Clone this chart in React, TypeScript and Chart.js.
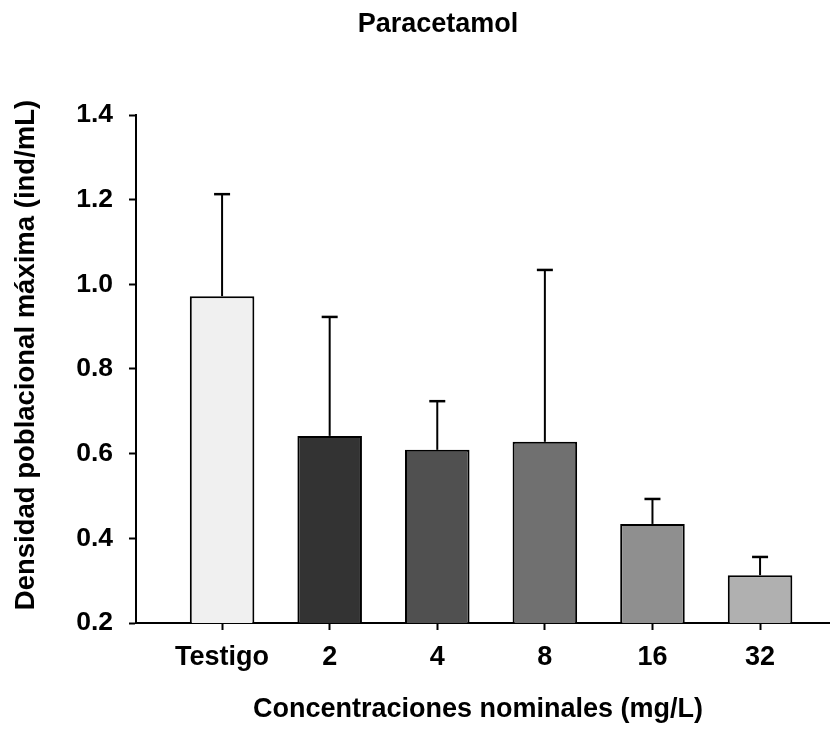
import React, { useEffect, useRef } from "react";
import { Chart, registerables } from "chart.js";

Chart.register(...registerables);

const chartTitle = "Paracetamol";
const xAxisTitle = "Concentraciones nominales (mg/L)";
const yAxisTitle = "Densidad poblacional máxima (ind/mL)";
const categories = ["Testigo", "2", "4", "8", "16", "32"];
const means = [0.972, 0.642, 0.609, 0.628, 0.434, 0.313];
const errorsUp = [0.241, 0.281, 0.115, 0.406, 0.059, 0.043];
const barColors = ["#f0f0f0", "#333333", "#505050", "#707070", "#8f8f8f", "#b0b0b0"];
const yTicks = [0.2, 0.4, 0.6, 0.8, 1.0, 1.2, 1.4];

const FONT = "'Liberation Sans', Arial, Helvetica, sans-serif";

const errorBarPlugin = {
  id: "errorBars",
  afterDatasetsDraw(chart: any) {
    const ctx = chart.ctx;
    const yScale = chart.scales.y;
    const meta = chart.getDatasetMeta(0);
    ctx.save();
    ctx.strokeStyle = "#000";
    ctx.lineCap = "butt";
    meta.data.forEach((el: any, i: number) => {
      const top = yScale.getPixelForValue(means[i] + errorsUp[i]);
      ctx.lineWidth = 2;
      ctx.beginPath();
      ctx.moveTo(el.x, el.y);
      ctx.lineTo(el.x, top);
      ctx.stroke();
      ctx.lineWidth = 2.5;
      ctx.beginPath();
      ctx.moveTo(el.x - 8, top);
      ctx.lineTo(el.x + 8, top);
      ctx.stroke();
    });
    ctx.restore();
  },
};

const textPlugin = {
  id: "texts",
  afterDraw(chart: any) {
    const ctx = chart.ctx;
    ctx.save();
    ctx.fillStyle = "#000";
    ctx.textAlign = "center";
    ctx.textBaseline = "middle";
    ctx.font = `bold 27px ${FONT}`;
    ctx.fillText(chartTitle, 438, 25);
    ctx.font = `bold 27px ${FONT}`;
    ctx.fillText(xAxisTitle, 478, 710);
    ctx.translate(26, 355);
    ctx.rotate(-Math.PI / 2);
    ctx.font = `bold 27.5px ${FONT}`;
    ctx.fillText(yAxisTitle, 0, 0);
    ctx.restore();
  },
};

export default function App() {
  const ref = useRef<HTMLCanvasElement | null>(null);
  useEffect(() => {
    document.body.style.margin = "0";
    const canvas = ref.current;
    if (!canvas) return;
    const chart = new Chart(canvas, {
      type: "bar",
      data: {
        datasets: [
          {
            data: means.map((v, i) => ({ x: i, y: v })),
            backgroundColor: barColors,
            borderColor: "#000",
            borderWidth: 2,
            borderSkipped: false,
            barPercentage: 0.6,
            categoryPercentage: 1,
          },
        ],
      },
      options: {
        responsive: false,
        animation: false,
        devicePixelRatio: 1,
        layout: { padding: { top: 115, left: 0, right: 0, bottom: 0 } },
        plugins: { legend: { display: false }, title: { display: false }, tooltip: { enabled: false } },
        scales: {
          x: {
            type: "linear",
            offset: false,
            min: -0.8,
            max: 5.65,
            afterFit: (s: any) => {
              s.height = 120;
            },
            afterBuildTicks: (s: any) => {
              s.ticks = categories.map((_, i) => ({ value: i }));
            },
            ticks: {
              autoSkip: false,
              maxRotation: 0,
              padding: 11,
              color: "#000",
              font: { family: FONT, size: 27, weight: "bold", lineHeight: 1.2 },
              callback: (v: any) => categories[Math.round(Number(v))] ?? "",
            },
            grid: { display: true, offset: false, drawOnChartArea: false, tickLength: 7, tickColor: "#000", tickWidth: 2 },
            border: { display: true, color: "#000", width: 2 },
          },
          y: {
            type: "linear",
            min: 0.2,
            max: 1.4,
            afterFit: (s: any) => {
              s.width = 136;
            },
            afterBuildTicks: (s: any) => {
              s.ticks = yTicks.map((v) => ({ value: v }));
            },
            ticks: {
              padding: 16,
              color: "#000",
              font: { family: FONT, size: 26.5, weight: "bold" },
              callback: (v: any) => Number(v).toFixed(1),
            },
            grid: { display: true, drawOnChartArea: false, tickLength: 7, tickColor: "#000", tickWidth: 2 },
            border: { display: true, color: "#000", width: 2 },
          },
        },
      },
      plugins: [errorBarPlugin, textPlugin],
    } as any);
    return () => chart.destroy();
  }, []);
  return <canvas ref={ref} width={830} height={743} style={{ display: "block", width: 830, height: 743 }} />;
}
